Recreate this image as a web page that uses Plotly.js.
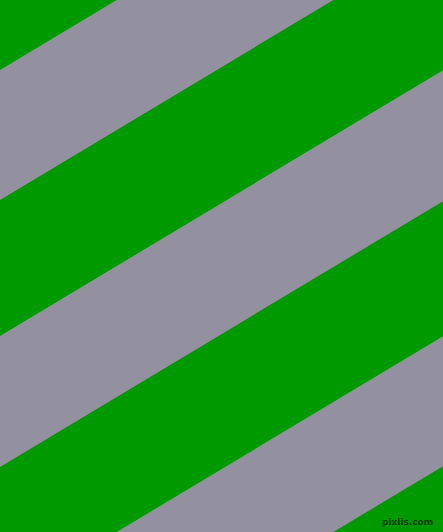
<!DOCTYPE html>
<html>
<head>
<meta charset="utf-8">
<script src="https://cdn.plot.ly/plotly-3.0.1.min.js"></script>
<style>
  html, body { margin: 0; padding: 0; background: #009900; }
  #chart { width: 443px; height: 532px; }
</style>
</head>
<body>
<div id="chart"></div>
<script>
// gray band edges, read at the left edge (x = 0), pixels from the top
const bandTop = [70, 336, 602];
const bandBottom = [200, 467, 732];
const slope = 0.6; // edges rise 0.6 px per px to the right

const W = 443, H = 532;
const green = '#009900';
const gray = '#93909f';

const traces = bandTop.map((top, i) => {
    const bottom = bandBottom[i];
    return {
        x: [0, W, W, 0, 0],
        y: [top, top - slope * W, bottom - slope * W, bottom, top],
        mode: 'lines',
        type: 'scatter',
        fill: 'toself',
        fillcolor: gray,
        line: { width: 0, color: gray },
        hoverinfo: 'skip',
        showlegend: false
    };
});

const layout = {
    width: W,
    height: H,
    margin: { l: 0, r: 0, t: 0, b: 0 },
    paper_bgcolor: green,
    plot_bgcolor: green,
    xaxis: { range: [0, W], visible: false, fixedrange: true },
    yaxis: { range: [H, 0], visible: false, fixedrange: true },
    annotations: [{
        xref: 'paper', yref: 'paper',
        x: 0.983, y: 0.006,
        xanchor: 'right', yanchor: 'bottom',
        text: '<b>pixlis.com</b>',
        showarrow: false,
        font: { family: 'DejaVu Sans, sans-serif', size: 9, color: '#003f00' }
    }]
};

Plotly.newPlot('chart', traces, layout, { displayModeBar: false, staticPlot: true });
</script>
</body>
</html>
